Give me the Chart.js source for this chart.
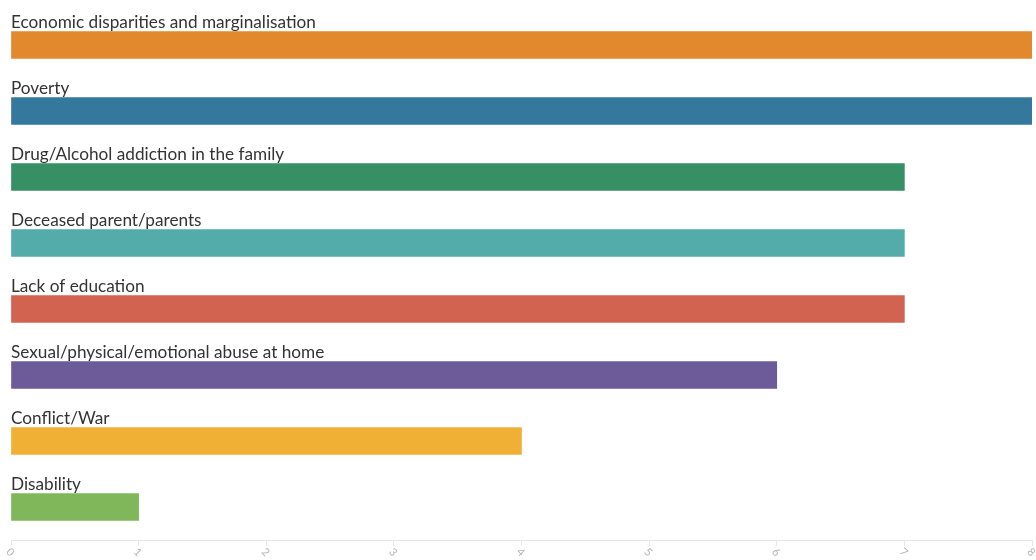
<!DOCTYPE html>
<html>
<head>
<meta charset="utf-8">
<script src="https://cdn.jsdelivr.net/npm/chart.js@4/dist/chart.umd.min.js"></script>
<style>
  html, body { margin: 0; padding: 0; background: #fff; }
  #wrap { width: 1036px; height: 560px; position: relative; }
</style>
</head>
<body>
<div id="wrap"><canvas id="chart"></canvas></div>
<script>
// categories and counts
const categories = [
    'Economic disparities and marginalisation',
    'Poverty',
    'Drug/Alcohol addiction in the family',
    'Deceased parent/parents',
    'Lack of education',
    'Sexual/physical/emotional abuse at home',
    'Conflict/War',
    'Disability'
];
const counts = [8, 8, 7, 7, 7, 6, 4, 1];
const barColors = ['#e3892d', '#35789e', '#378f64', '#53abaa', '#d16350', '#6d5a99', '#efb035', '#80b75a'];
const xTicks = [0, 1, 2, 3, 4, 5, 6, 7, 8];

// labels written above each bar, and the tilted tick labels under the axis
const barLabels = {
    id: 'barLabels',
    afterDatasetsDraw(chart) {
        const ctx = chart.ctx;
        const meta = chart.getDatasetMeta(0);
        ctx.save();
        ctx.font = '17.2px "Source Sans Pro", Lato, sans-serif';
        ctx.fillStyle = '#333333';
        ctx.textAlign = 'left';
        ctx.textBaseline = 'alphabetic';
        meta.data.forEach(function(bar, i) {
            const top = bar.y - bar.height / 2;
            ctx.fillText(categories[i], chart.chartArea.left, top - 4);
        });
        ctx.restore();

        const xs = chart.scales.x;
        ctx.save();
        ctx.font = '11px Lato, sans-serif';
        ctx.fillStyle = '#b4b4b4';
        ctx.textAlign = 'left';
        ctx.textBaseline = 'middle';
        xTicks.forEach(function(v) {
            ctx.save();
            ctx.translate(xs.getPixelForValue(v) - 3, xs.top + 10);
            ctx.rotate(Math.PI / 4);
            ctx.fillText(String(v), 0, 0);
            ctx.restore();
        });
        ctx.restore();
    }
};

new Chart(document.getElementById('chart'), {
    type: 'bar',
    data: {
        labels: categories,
        datasets: [{
            data: counts,
            backgroundColor: barColors,
            borderWidth: 0,
            barThickness: 27
        }]
    },
    options: {
        indexAxis: 'y',
        responsive: true,
        maintainAspectRatio: false,
        animation: false,
        layout: { padding: { top: 12, left: 11, right: 4, bottom: 0 } },
        plugins: {
            legend: { display: false },
            tooltip: { enabled: false }
        },
        scales: {
            y: { display: false },
            x: {
                min: 0,
                max: 8,
                afterBuildTicks(scale) {
                    scale.ticks = xTicks.map(v => ({ value: v }));
                },
                afterFit(scale) {
                    scale.height = 20;
                    scale.paddingLeft = 0;
                    scale.paddingRight = 0;
                },
                grid: {
                    drawOnChartArea: false,
                    tickLength: 6,
                    color: '#e6e6e6'
                },
                border: { color: '#e6e6e6' },
                ticks: { display: false }
            }
        }
    },
    plugins: [barLabels]
});
</script>
</body>
</html>
